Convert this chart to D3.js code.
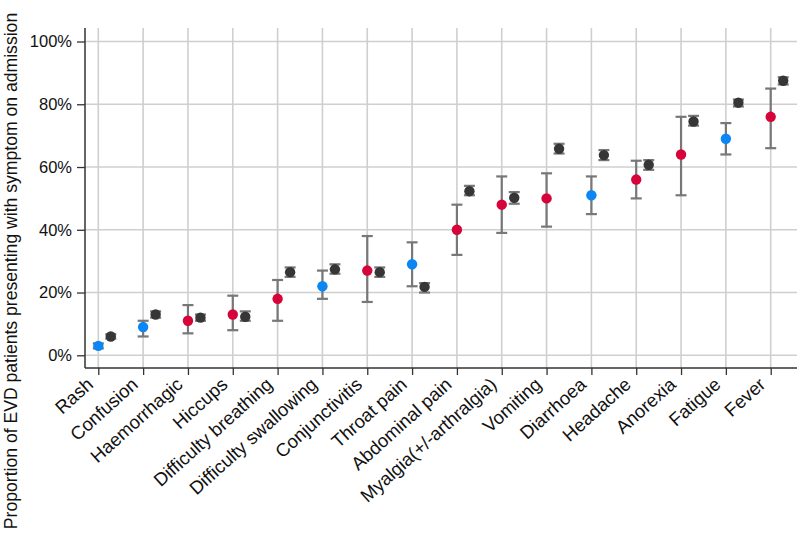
<!DOCTYPE html>
<html>
<head>
<meta charset="utf-8">
<script src="https://cdn.jsdelivr.net/npm/d3@7"></script>
<style>
  html, body { margin: 0; padding: 0; background: #fff; }
  svg { display: block; font-family: "Liberation Sans", Arial, sans-serif; }
</style>
</head>
<body>
<svg id="chart" width="799" height="540"></svg>
<script>
const categories = ["Rash","Confusion","Haemorrhagic","Hiccups","Difficulty breathing","Difficulty swallowing","Conjunctivitis","Throat pain","Abdominal pain","Myalgia(+/-arthralgia)","Vomiting","Diarrhoea","Headache","Anorexia","Fatigue","Fever"];
const groups = ["blue","blue","red","red","red","blue","red","blue","red","red","red","blue","red","red","blue","red"];
const studyValues = [3, 9, 11, 13, 18, 22, 27, 29, 40, 48, 50, 51, 56, 64, 69, 76];
const studyLow    = [2.2, 6, 7, 8, 11, 18, 17, 22, 32, 39, 41, 45, 50, 51, 64, 66];
const studyHigh   = [3.8, 11, 16, 19, 24, 27, 38, 36, 48, 57, 58, 57, 62, 76, 74, 85];
const refValues = [6, 13, 12, 12.3, 26.5, 27.4, 26.5, 21.8, 52.3, 50.2, 65.8, 63.8, 60.7, 74.5, 80.5, 87.5];
const refLow    = [5.3, 12, 11, 11, 25, 26, 25, 20, 51, 48.3, 64.3, 62.2, 59.1, 73.2, 79.3, 86.3];
const refHigh   = [6.7, 14, 13, 14, 28, 29, 28, 23, 54, 52, 67.4, 65.4, 62.2, 76.3, 81.5, 88.6];
const yTicks = [0, 20, 40, 60, 80, 100];

const colorMap = { red: "#d7043a", blue: "#0a86f5" };

const svg = d3.select("#chart");
const axisLeftX = 85, axisRightX = 797, axisTopY = 28, axisBottomY = 368;

const x = d3.scalePoint().domain(categories).range([98.3, 770.7]).padding(0);
const y = d3.scaleLinear().domain([0, 100]).range([355.3, 41.5]);
const refOffset = 12.5;

// gridlines
const grid = svg.append("g");
grid.selectAll("line.h").data(yTicks).enter().append("line")
  .attr("x1", axisLeftX).attr("x2", axisRightX)
  .attr("y1", d => y(d)).attr("y2", d => y(d))
  .attr("stroke", "#cfcfcf").attr("stroke-width", 1.6);
grid.selectAll("line.v").data(categories).enter().append("line")
  .attr("x1", d => x(d)).attr("x2", d => x(d))
  .attr("y1", axisTopY).attr("y2", axisBottomY)
  .attr("stroke", "#cfcfcf").attr("stroke-width", 1.6);

// y axis
const yAxis = d3.axisLeft(y).tickValues(yTicks).tickFormat(d => d + "%").tickSize(8).tickPadding(5);
const yg = svg.append("g").attr("transform", `translate(${axisLeftX},0)`).call(yAxis);
yg.select(".domain").remove();
yg.selectAll(".tick line").attr("stroke", "#333").attr("stroke-width", 1.3);
yg.selectAll(".tick text").attr("font-size", 16.5).attr("fill", "#111").attr("font-family", "Liberation Sans, Arial, sans-serif");
svg.append("line").attr("x1", axisLeftX).attr("x2", axisLeftX).attr("y1", axisTopY).attr("y2", axisBottomY)
  .attr("stroke", "#333").attr("stroke-width", 1.5);

// x axis
const xAxis = d3.axisBottom(x).tickSize(7).tickFormat("");
const xg = svg.append("g").attr("transform", `translate(0,${axisBottomY})`).call(xAxis);
xg.select(".domain").remove();
xg.selectAll(".tick line").attr("stroke", "#333").attr("stroke-width", 1.3);
svg.append("line").attr("x1", axisLeftX).attr("x2", axisRightX).attr("y1", axisBottomY).attr("y2", axisBottomY)
  .attr("stroke", "#333").attr("stroke-width", 1.5);
svg.append("g").selectAll("text").data(categories).enter().append("text")
  .attr("transform", d => `translate(${x(d) - 4},${axisBottomY + 18}) rotate(-42)`)
  .attr("text-anchor", "end")
  .attr("font-size", 18.5).attr("fill", "#111")
  .text(d => d);

// y label
svg.append("text")
  .attr("transform", `translate(17,271) rotate(-90)`)
  .attr("text-anchor", "middle")
  .attr("font-size", 17.6).attr("fill", "#111")
  .text("Proportion of EVD patients presenting with symptom on admission");

// error bars
function drawBars(vals, lo, hi, dx, capW) {
  const g = svg.append("g");
  categories.forEach((c, i) => {
    const cx = x(c) + dx;
    g.append("line").attr("x1", cx).attr("x2", cx).attr("y1", y(lo[i])).attr("y2", y(hi[i]))
      .attr("stroke", "#777").attr("stroke-width", 2.2);
    [lo[i], hi[i]].forEach(v => {
      g.append("line").attr("x1", cx - capW/2).attr("x2", cx + capW/2).attr("y1", y(v)).attr("y2", y(v))
        .attr("stroke", "#777").attr("stroke-width", 2.2);
    });
  });
}
drawBars(studyValues, studyLow, studyHigh, 0, 11);
drawBars(refValues, refLow, refHigh, refOffset, 11);

// points
svg.append("g").selectAll("circle").data(categories).enter().append("circle")
  .attr("cx", d => x(d) + refOffset).attr("cy", (d, i) => y(refValues[i]))
  .attr("r", 5.2).attr("fill", "#363636");
svg.append("g").selectAll("circle").data(categories).enter().append("circle")
  .attr("cx", d => x(d)).attr("cy", (d, i) => y(studyValues[i]))
  .attr("r", 5.2).attr("fill", (d, i) => colorMap[groups[i]]);
</script>
</body>
</html>
